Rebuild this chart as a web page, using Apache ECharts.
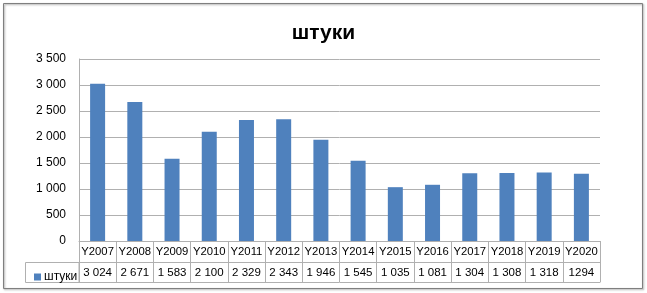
<!DOCTYPE html>
<html><head><meta charset="utf-8">
<script src="https://cdn.jsdelivr.net/npm/echarts@6/dist/echarts.min.js"></script>
<style>html,body{margin:0;padding:0;background:#fff}#c{width:647px;height:293px}</style>
</head><body><div id="c"></div>
<script>
const categories = ['Y2007','Y2008','Y2009','Y2010','Y2011','Y2012','Y2013','Y2014','Y2015','Y2016','Y2017','Y2018','Y2019','Y2020'];
const values = [3024, 2671, 1583, 2100, 2329, 2343, 1946, 1545, 1035, 1081, 1304, 1308, 1318, 1294];
const tableLabels = ['3 024','2 671','1 583','2 100','2 329','2 343','1 946','1 545','1 035','1 081','1 304','1 308','1 318','1294'];
const seriesName = 'штуки';

const FONT = 'Liberation Sans';
const LINE = '#b0b0b0';
const chart = echarts.init(document.getElementById('c'), null, {renderer:'canvas'});
chart.setOption({
  animation: false,
  textStyle: {fontFamily: FONT},
  title: {text: seriesName, left: 'center', top: 18, textStyle: {fontFamily: FONT, fontSize: 21, fontWeight: 'bold', color: '#000'}},
  legend: {data: [seriesName], left: 29, top: 266, icon: 'rect', itemWidth: 7, itemHeight: 7, itemGap: 0,
    textStyle: {fontFamily: FONT, fontSize: 12, color: '#000', padding: [0,0,0,-2]}},
  grid: {left: 79, right: 47, top: 59, bottom: 52, containLabel: false},
  xAxis: [
    {type: 'category', data: categories, position: 'bottom',
     axisLine: {show: true, lineStyle: {color: LINE}},
     axisTick: {show: true, length: 41, interval: 0, lineStyle: {color: LINE}},
     axisLabel: {interval: 0, margin: 5, fontSize: 11.3, color: '#000', fontFamily: FONT}},
    {type: 'category', data: tableLabels, position: 'bottom', offset: 21,
     axisLine: {show: true, lineStyle: {color: LINE}},
     axisTick: {show: false},
     axisLabel: {interval: 0, margin: 5, fontSize: 11.5, color: '#000', fontFamily: FONT}},
    {type: 'category', data: categories, position: 'bottom', offset: 41,
     axisLine: {show: true, lineStyle: {color: LINE}},
     axisTick: {show: false}, axisLabel: {show: false}}
  ],
  yAxis: {type: 'value', min: 0, max: 3500, interval: 500,
    axisLine: {show: true, lineStyle: {color: LINE}},
    axisTick: {show: false},
    splitLine: {lineStyle: {color: LINE}},
    axisLabel: {margin: 13, fontSize: 12, color: '#000', fontFamily: FONT,
      formatter: v => String(v).replace(/\B(?=(\d{3})+(?!\d))/g, ' ')}},
  series: [{name: seriesName, type: 'bar', data: values, xAxisIndex: 0, barWidth: 15,
    itemStyle: {color: '#4f81bd'}}],
  graphic: [
    {type: 'rect', shape: {x: 3.5, y: 3.5, width: 639, height: 285}, z: -10,
     style: {fill: 'none', stroke: '#7f7f7f', lineWidth: 1, shadowBlur: 2, shadowOffsetX: 1, shadowOffsetY: 1, shadowColor: 'rgba(0,0,0,0.4)'}},
    {type: 'rect', shape: {x: 25.5, y: 262.5, width: 53.5, height: 20}, z: -5,
     style: {fill: 'none', stroke: LINE, lineWidth: 1}}
  ]
});
</script></body></html>
